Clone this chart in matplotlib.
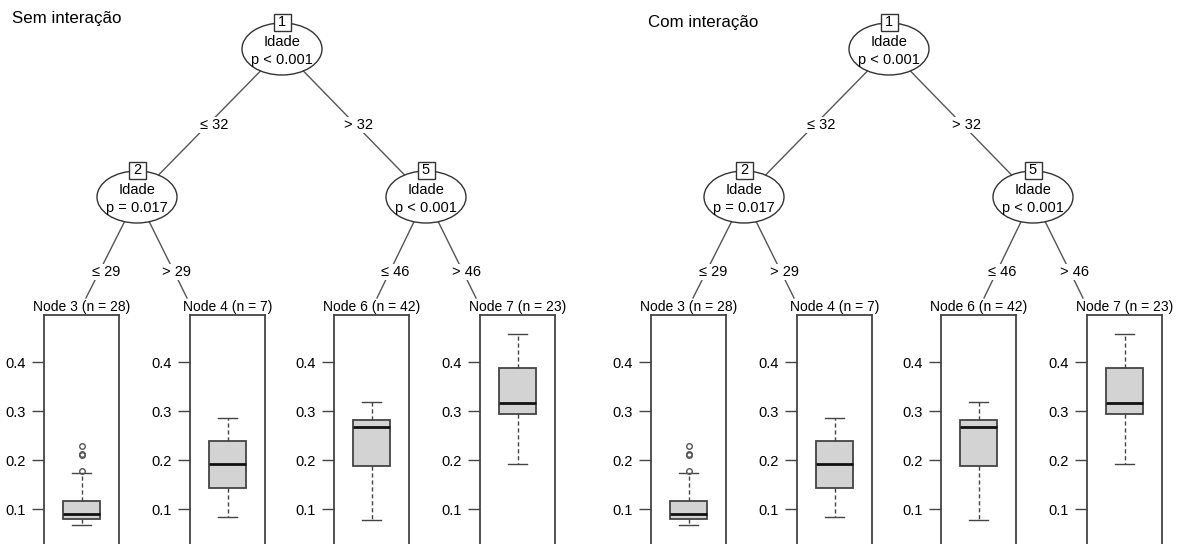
import matplotlib.pyplot as plt
from matplotlib.patches import Ellipse, Rectangle

plt.rcParams['font.family'] = ['Liberation Sans', 'DejaVu Sans']

# ---- data ----
panel_titles = ["Sem interação", "Com interação"]
split_var = "Idade"
inner_ids = [1, 2, 5]
inner_pvals = ["p < 0.001", "p = 0.017", "p < 0.001"]
edge_labels = [("≤ 32", "> 32"), ("≤ 29", "> 29"), ("≤ 46", "> 46")]

terminal_ids = [3, 4, 6, 7]
terminal_n = [28, 7, 42, 23]
whisker_lo = [0.068, 0.084, 0.078, 0.193]
q1 = [0.080, 0.144, 0.188, 0.294]
median = [0.091, 0.192, 0.268, 0.317]
q3 = [0.117, 0.239, 0.282, 0.388]
whisker_hi = [0.174, 0.286, 0.318, 0.457]
outliers = [[0.177, 0.210, 0.213, 0.229], [], [], []]
yticks = [0.1, 0.2, 0.3, 0.4]

# ---- layout (pixels) ----
W, H = 1182, 544
PANEL_DX = [0, 607]
TITLE_XY = [(12, 19), (648, 23)]
INNER_XY = {1: (282, 49), 2: (137, 197), 5: (426, 197)}
TERM_X = [44, 190, 334, 480]
TERM_W = 75
TERM_TOP = 315
TERM_LABEL_Y = 307
TERM_EDGE_END = {3: (86, 298), 4: (187, 298), 6: (377, 298), 7: (476, 298)}
EDGE_LABEL_XY = [((214, 125), (359, 125)), ((106, 272), (177, 272)), ((395, 272), (467, 272))]
EDGES = [(1, 2), (1, 5), (2, 3), (2, 4), (5, 6), (5, 7)]

LINE = "#555555"
FS = 10.5

fig = plt.figure(figsize=(W / 100, H / 100), dpi=100)
ax = fig.add_axes([0, 0, 1, 1])
ax.set_xlim(0, W)
ax.set_ylim(H, 0)
ax.axis("off")

all_vals = whisker_lo + whisker_hi + [v for o in outliers for v in o]
lo, hi = min(all_vals), max(all_vals)
ylim = (lo - 0.1 * (hi - lo), hi + 0.1 * (hi - lo))

for p, dx in enumerate(PANEL_DX):
    ax.text(TITLE_XY[p][0], TITLE_XY[p][1], panel_titles[p], fontsize=12.2,
            ha="left", va="center")

    # edges
    for a, b in EDGES:
        x0, y0 = INNER_XY[a]
        x1, y1 = INNER_XY[b] if b in INNER_XY else TERM_EDGE_END[b]
        ax.plot([x0 + dx, x1 + dx], [y0, y1], color=LINE, lw=1, zorder=1)

    # edge labels
    for k, (l, r) in enumerate(edge_labels):
        (lx, ly), (rx, ry) = EDGE_LABEL_XY[k]
        for txt, x, y in [(l, lx, ly), (r, rx, ry)]:
            ax.text(x + dx, y, txt, fontsize=FS, ha="center", va="center", zorder=3,
                    bbox=dict(fc="white", ec="none", pad=0.5))

    # inner nodes
    for nid, pv in zip(inner_ids, inner_pvals):
        cx, cy = INNER_XY[nid]
        ax.add_patch(Ellipse((cx + dx, cy), 80, 52, fc="white", ec="#333333", lw=1, zorder=2))
        ax.text(cx + dx, cy - 7, split_var, fontsize=FS, ha="center", va="center", zorder=3)
        ax.text(cx + dx, cy + 11, pv, fontsize=FS, ha="center", va="center", zorder=3)
        ax.add_patch(Rectangle((cx + dx - 8.5, cy - 35.5), 17, 17, fc="white", ec="#333333",
                               lw=1, zorder=3))
        ax.text(cx + dx, cy - 27, str(nid), fontsize=FS, ha="center", va="center", zorder=4)

    # terminal nodes
    for i, tid in enumerate(terminal_ids):
        x = TERM_X[i] + dx
        ax.text(x + TERM_W / 2, TERM_LABEL_Y, f"Node {tid} (n = {terminal_n[i]})",
                fontsize=10, ha="center", va="center", zorder=3,
                bbox=dict(fc="white", ec="none", pad=0.3))
        bax = fig.add_axes([x / W, 0, TERM_W / W, (H - TERM_TOP) / H])
        stats = [dict(med=median[i], q1=q1[i], q3=q3[i], whislo=whisker_lo[i],
                      whishi=whisker_hi[i], fliers=outliers[i])]
        bax.bxp(stats, positions=[0.5], widths=0.5, capwidths=0.25, patch_artist=True,
                boxprops=dict(facecolor="#D3D3D3", edgecolor="#444444", lw=1.3),
                medianprops=dict(color="#111111", lw=2),
                whiskerprops=dict(color="#444444", lw=1, ls=(0, (3, 2))),
                capprops=dict(color="#444444", lw=1),
                flierprops=dict(marker="o", markersize=4, mfc="none", mec="#555555", mew=1))
        bax.set_xlim(0, 1)
        bax.set_ylim(*ylim)
        bax.set_xticks([])
        bax.set_yticks(yticks)
        bax.set_yticklabels([f"{t:.1f}" for t in yticks], fontsize=10.5)
        bax.tick_params(axis="y", length=9, width=1, color="#444444", pad=4)
        for s in ["left", "right", "top"]:
            bax.spines[s].set_color("#444444")
            bax.spines[s].set_linewidth(1.3)
        bax.spines["bottom"].set_visible(False)

fig.savefig("out.png", dpi=100)
